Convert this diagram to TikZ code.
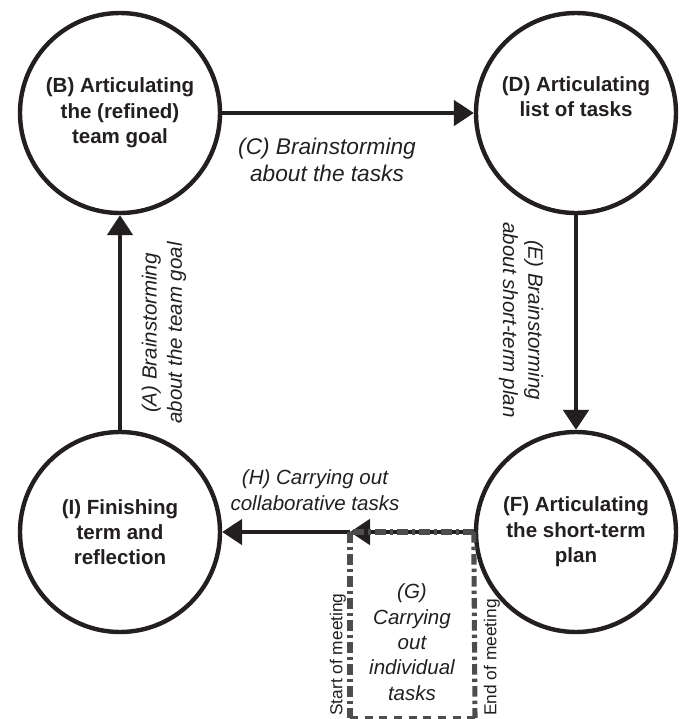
\documentclass[tikz,border=0pt]{standalone}
\usepackage{fontspec}
\setmainfont{Liberation Sans}
\usetikzlibrary{arrows.meta}
\definecolor{ink}{HTML}{231F20}
\definecolor{boxgray}{HTML}{4D4D4D}
\begin{document}
\begin{tikzpicture}[x=0.75pt,y=-0.75pt,
  stage/.style={circle,draw=ink,line width=3.3pt,minimum size=150pt,inner sep=0pt,align=center,
    font=\bfseries\fontsize{15.4}{19}\selectfont,text=ink},
  lbl/.style={align=center,font=\itshape\fontsize{15.4}{19}\selectfont,text=ink,inner sep=0pt},
  arr/.style={draw=ink,line width=3pt,-{Triangle[length=15pt,width=19pt]}},
  gline/.style={draw=boxgray,line width=3.8pt,dash pattern=on 8pt off 3pt on 2.5pt off 3pt},
  gbot/.style={draw=boxgray,line width=3pt,dash pattern=on 6pt off 5pt},
  meet/.style={font=\fontsize{13}{15}\selectfont,text=ink,inner sep=0pt}
]
\useasboundingbox (0,0) rectangle (686,719);
\node[stage] (B) at (120,113) {(B) Articulating\\the (refined)\\team goal};
\node[stage] (D) at (576,113) {(D) Articulating\\list of tasks\\\strut};
\node[stage] (F) at (576,532) {(F) Articulating\\the short-term\\plan};
\node[stage] (I) at (120,532) {(I) Finishing\\term and\\reflection};
\coordinate (gl) at (350,532);
\coordinate (gbl) at (350,718);
\coordinate (gbr) at (475,718);
\draw[arr] (B) -- (D);
\draw[arr] (D) -- (F);
\draw[arr] (I) -- (B);
\draw[arr] (F.west) -- (gl);
\draw[arr] (gl) -- (I.east);
\draw[gline] (F.west) -- (gl);
\draw[gline] (gl) -- (gbl);
\draw[gline] (F.west) -- (gbr);
\draw[gbot] (gbl) -- (gbr);
\node[lbl,rotate=90] (la) at (164,333) {(A) Brainstorming\\about the team goal};
\node[lbl,rotate=-90] (le) at (521,320) {(E) Brainstorming\\about short-term plan};
\node[lbl,font=\itshape\fontsize{17}{20}\selectfont] (lc) at (327,160) {(C) Brainstorming\\about the tasks};
\node[lbl] (lh) at (315,490) {(H) Carrying out\\collaborative tasks};
\node[lbl] (lg) at (412,642) {(G)\\Carrying\\out\\individual\\tasks};
\node[meet,rotate=90,anchor=west] (ls) at (338,716) {Start of meeting};
\node[meet,rotate=90,anchor=west] (lend) at (492,716) {End of meeting};
\end{tikzpicture}
\end{document}
